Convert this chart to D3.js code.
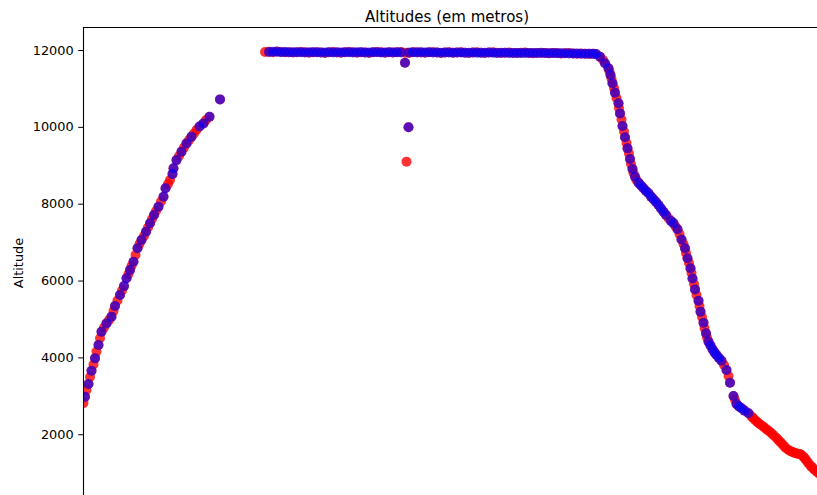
<!DOCTYPE html>
<html>
<head>
<meta charset="utf-8">
<script src="https://cdn.jsdelivr.net/npm/d3@7"></script>
<style>
  html, body { margin: 0; padding: 0; background: #fff; }
  svg { display: block; }
  text { font-family: "DejaVu Sans", sans-serif; fill: #000; }
</style>
</head>
<body>
<div id="chart"></div>
<script>
// Flight altitude over time: two altitude sources sampled along the same track.
// minutes since first sample; redAlt / blueAlt in metres (null = no reading).

const titleText = "Altitudes (em metros)";
const yLabelText = "Altitude";
const yTicks = [2000, 4000, 6000, 8000, 10000, 12000];

const minutes = [
  // climb
  0.1, 0.4, 0.7, 1.1, 1.4, 1.7, 2.1, 2.4, 2.7, 3.1,
  3.4, 3.7, 4.2, 4.7, 5.2, 5.7, 6.1, 6.4, 6.9, 7.4,
  7.8, 8.2, 8.7, 9.1, 9.4, 9.7, 10.1, 10.5, 10.9, 11.3,
  11.7, 12.2, 12.6, 13.0, 13.4, 13.8, 14.2, 14.6, 15.1, 15.6,
  16.1, 16.5, 17.0, 17.4, 17.9, 18.1, 18.7, 19.2, 19.7, 20.2,
  20.7, 21.2, 21.7, 22.2, 22.7, 23.3, 24.1, 24.6, 25.3, 27.4,
  // cruise
  36.4, 37.2, 38.0, 38.8, 39.6, 40.4, 41.2, 42.0, 42.8, 43.6,
  44.4, 45.2, 46.0, 46.8, 47.6, 48.4, 49.2, 50.0, 50.8, 51.6,
  52.4, 53.2, 54.0, 54.8, 55.6, 56.4, 57.2, 58.0, 58.8, 59.6,
  60.4, 61.2, 62.0, 62.8, 63.6,
  64.4, 64.4, 64.7, 65.1,
  65.2, 66.0, 66.8, 67.6, 68.4, 69.2, 70.0, 70.8, 71.6, 72.4,
  73.2, 74.0, 74.8, 75.6, 76.4, 77.2, 78.0, 78.8, 79.6, 80.4,
  81.2, 82.0, 82.8, 83.6, 84.4, 85.2, 86.0, 86.8, 87.6, 88.4,
  89.2, 90.0, 90.8, 91.6, 92.4, 93.2, 94.0, 94.8, 95.6, 96.4,
  97.2, 98.0, 98.8, 99.6, 100.4, 101.2, 102.0,
  // descent
  102.6, 103.4, 104.0, 104.4, 105.1, 105.3, 105.5, 105.7, 105.9, 106.2,
  106.4, 106.7, 107.1, 107.2, 107.4, 107.7, 107.9, 108.2, 108.4, 108.7,
  108.9, 109.2, 109.4, 109.6, 109.9, 110.1, 110.4, 110.7, 111.1, 111.6,
  112.1, 112.6, 113.1, 113.6, 114.1, 114.6, 115.1, 115.6, 116.1, 116.6,
  117.1, 117.6, 118.1, 118.5, 118.9, 119.3, 119.7, 120.1, 120.4, 120.6,
  120.9, 121.2, 121.5, 121.7, 121.9, 122.2, 122.4, 122.7, 123.1, 123.3,
  123.5, 123.8, 124.1, 124.3, 124.6, 124.8, 125.1, 125.5, 125.9, 126.3,
  126.7, 127.2, 127.7, 128.2, 128.7, 129.1, 129.4, 130.1, 130.4, 130.7,
  131.2, 131.7, 132.3, 133.1,
  // approach (red source only)
  133.7, 134.0, 134.4, 134.8, 135.2, 135.6, 136.1, 136.5, 136.9, 137.3,
  137.7, 138.1, 138.6, 139.0, 139.4, 139.8, 140.2, 140.6, 141.1, 141.5,
  141.9, 142.3, 142.7, 143.0, 143.4, 143.7, 144.1, 144.4, 144.7, 145.0,
  145.4, 145.7, 146.1, 146.4, 146.8, 147.2, 147.6
];

const redAlt = [
  // climb
  2810, 2975, 3150, 3305, 3490, 3650, 3815, 3975, 4150, 4320,
  4500, 4665, 4775, 4885, 4970, 5060, 5205, 5335, 5480, 5625,
  5740, 5855, 6060, 6170, 6275, 6380, 6490, 6665, 6840, 6950,
  7055, 7160, 7270, 7380, 7490, 7600, 7705, 7810, 7920, 8055,
  8180, 8400, 8510, 8615, 8770, 8920, 9135, 9240, 9355, 9460,
  9570, 9655, 9745, 9825, 9920, 10010, 10090, 10180, 10265, 10715,
  // cruise
  11950, 11955, 11945, 11960, 11950, 11940, 11945, 11935, 11940, 11950,
  11945, 11930, 11940, 11945, 11935, 11925, 11940, 11950, 11935, 11930,
  11945, 11950, 11940, 11930, 11945, 11935, 11925, 11940, 11950, 11940,
  11930, 11945, 11935, 11940, 11950,
  11930, 11670, 9095, 9990,
  11925, 11940, 11945, 11935, 11930, 11940, 11945, 11935, 11925, 11935,
  11940, 11930, 11935, 11945, 11930, 11925, 11935, 11940, 11930, 11925,
  11935, 11940, 11930, 11920, 11930, 11935, 11925, 11920, 11930, 11935,
  11925, 11915, 11925, 11930, 11920, 11915, 11925, 11920, 11910, 11915,
  11920, 11910, 11905, 11910, 11905, 11900, 11900,
  // descent
  11895, 11825, 11740, 11655, 11525, 11440, 11350, 11245, 11135, 11010,
  10890, 10750, 10615, 10490, 10350, 10190, 10020, 9880, 9730, 9580,
  9440, 9305, 9165, 9035, 8900, 8800, 8700, 8615, 8545, 8475,
  8400, 8330, 8270, 8185, 8115, 8045, 7965, 7875, 7790, 7705,
  7620, 7550, 7490, 7405, 7335, 7210, 7070, 6950, 6840, 6715,
  6580, 6455, 6320, 6195, 6055, 5910, 5770, 5625, 5475, 5335,
  5190, 5050, 4900, 4765, 4625, 4515, 4405, 4310, 4210, 4130,
  4060, 3985, 3910, 3800, 3670, 3515, 3340, 2995, 2890, 2785,
  2720, 2675, 2615, 2545,
  // approach
  2460, 2420, 2370, 2325, 2280, 2240, 2195, 2150, 2110, 2070,
  2025, 1975, 1915, 1860, 1805, 1750, 1690, 1635, 1590, 1560,
  1535, 1515, 1500, 1495, 1485, 1460, 1415, 1365, 1315, 1260,
  1200, 1150, 1105, 1060, 1020, 980, 935
];

const blueAlt = [
  // climb
  null, 2975, null, 3305, null, 3650, null, 3975, null, 4320,
  null, 4665, null, 4885, null, 5060, null, 5335, null, 5625,
  null, 5855, 6060, null, 6275, null, 6490, null, 6840, null,
  7055, null, 7270, null, 7490, null, 7705, null, 7920, null,
  8180, 8400, null, null, 8770, 8920, 9135, null, 9355, null,
  9570, null, 9745, null, null, 10010, 10090, null, 10265, 10715,
  // cruise
  null, 11950, 11955, 11955, 11945, 11950, 11945, 11940, 11945, 11940,
  11935, 11940, 11945, 11940, 11935, 11935, 11940, 11935, 11940, 11935,
  11940, 11945, 11935, 11940, 11945, 11935, 11935, 11940, 11945, 11935,
  11935, 11940, 11935, 11940, 11935,
  null, 11670, null, 9990,
  11935, 11940, 11935, 11940, 11935, 11940, 11935, 11935, 11930, 11935,
  11935, 11930, 11935, 11935, 11930, 11930, 11935, 11930, 11930, 11930,
  11935, 11930, 11925, 11930, 11930, 11925, 11925, 11925, 11925, 11920,
  11925, 11920, 11920, 11920, 11920, 11915, 11920, 11915, 11915, 11915,
  11910, 11910, 11910, 11905, 11905, 11905, 11900,
  // descent (this source stops before the approach)
  11895, 11825, null, 11655, 11525, null, 11350, null, 11135, null,
  10890, null, 10615, null, 10350, null, 10020, null, 9730, null,
  9440, null, 9165, null, 8900, null, 8700, null, 8545, 8475,
  8400, 8330, 8270, 8185, 8115, 8045, 7965, 7875, 7790, 7705,
  null, 7550, 7490, null, 7335, null, 7070, null, 6840, null,
  6580, null, 6320, null, 6055, null, 5770, null, 5475, null,
  5190, null, 4900, null, 4625, null, 4405, 4310, 4210, 4130,
  4060, 3985, 3910, null, 3670, null, 3340, 2995, null, 2785,
  2720, 2675, 2615, 2545
];

const W = 817, H = 495;
const plot = { left: 83, top: 27, right: 830, bottom: 499 };

const x = d3.scaleLinear().domain([0, 149.4]).range([plot.left, plot.right]);
const y = d3.scaleLinear().domain([314, 12599]).range([plot.bottom, plot.top]);

const svg = d3.select("#chart").append("svg")
  .attr("width", W).attr("height", H)
  .attr("viewBox", `0 0 ${W} ${H}`);

svg.append("rect").attr("width", W).attr("height", H).attr("fill", "#fff");

svg.append("defs").append("clipPath").attr("id", "plot-clip")
  .append("rect")
  .attr("x", plot.left).attr("y", plot.top)
  .attr("width", plot.right - plot.left).attr("height", plot.bottom - plot.top);

const redPts = minutes.map((m, i) => ({ m, a: redAlt[i] })).filter(d => d.a != null);
const bluePts = minutes.map((m, i) => ({ m, a: blueAlt[i] })).filter(d => d.a != null);

const marks = svg.append("g").attr("clip-path", "url(#plot-clip)");
const R = 5;

marks.append("g").selectAll("circle").data(redPts).join("circle")
  .attr("cx", d => x(d.m)).attr("cy", d => y(d.a)).attr("r", R)
  .attr("fill", "#ff0000").attr("fill-opacity", 0.8);

marks.append("g").selectAll("circle").data(bluePts).join("circle")
  .attr("cx", d => x(d.m)).attr("cy", d => y(d.a)).attr("r", R)
  .attr("fill", "#0000ff").attr("fill-opacity", 0.65);

// y axis (left spine with outward ticks)
const yAxis = d3.axisLeft(y).tickValues(yTicks).tickFormat(d3.format("d"))
  .tickSize(4.8).tickPadding(4.5);
const gy = svg.append("g").attr("transform", `translate(${plot.left},0)`).call(yAxis);
gy.select(".domain").remove();
gy.selectAll(".tick line").attr("stroke", "#000").attr("stroke-width", 1);
gy.selectAll(".tick text")
  .style("font-family", '"DejaVu Sans", sans-serif')
  .style("font-size", "12.9px").attr("fill", "#000");

// spines
svg.append("line")
  .attr("x1", plot.left + 0.5).attr("x2", plot.left + 0.5)
  .attr("y1", plot.top).attr("y2", plot.bottom)
  .attr("stroke", "#000").attr("stroke-width", 1.1);
svg.append("line")
  .attr("x1", plot.left).attr("x2", plot.right)
  .attr("y1", plot.top + 0.5).attr("y2", plot.top + 0.5)
  .attr("stroke", "#000").attr("stroke-width", 1.1);

// title
svg.append("text")
  .attr("x", 447).attr("y", 21.5)
  .attr("text-anchor", "middle")
  .style("font-size", "15px")
  .text(titleText);

// y label
svg.append("text")
  .attr("transform", `translate(23.2,263) rotate(-90)`)
  .attr("text-anchor", "middle")
  .style("font-size", "12.9px")
  .text(yLabelText);
</script>
</body>
</html>
